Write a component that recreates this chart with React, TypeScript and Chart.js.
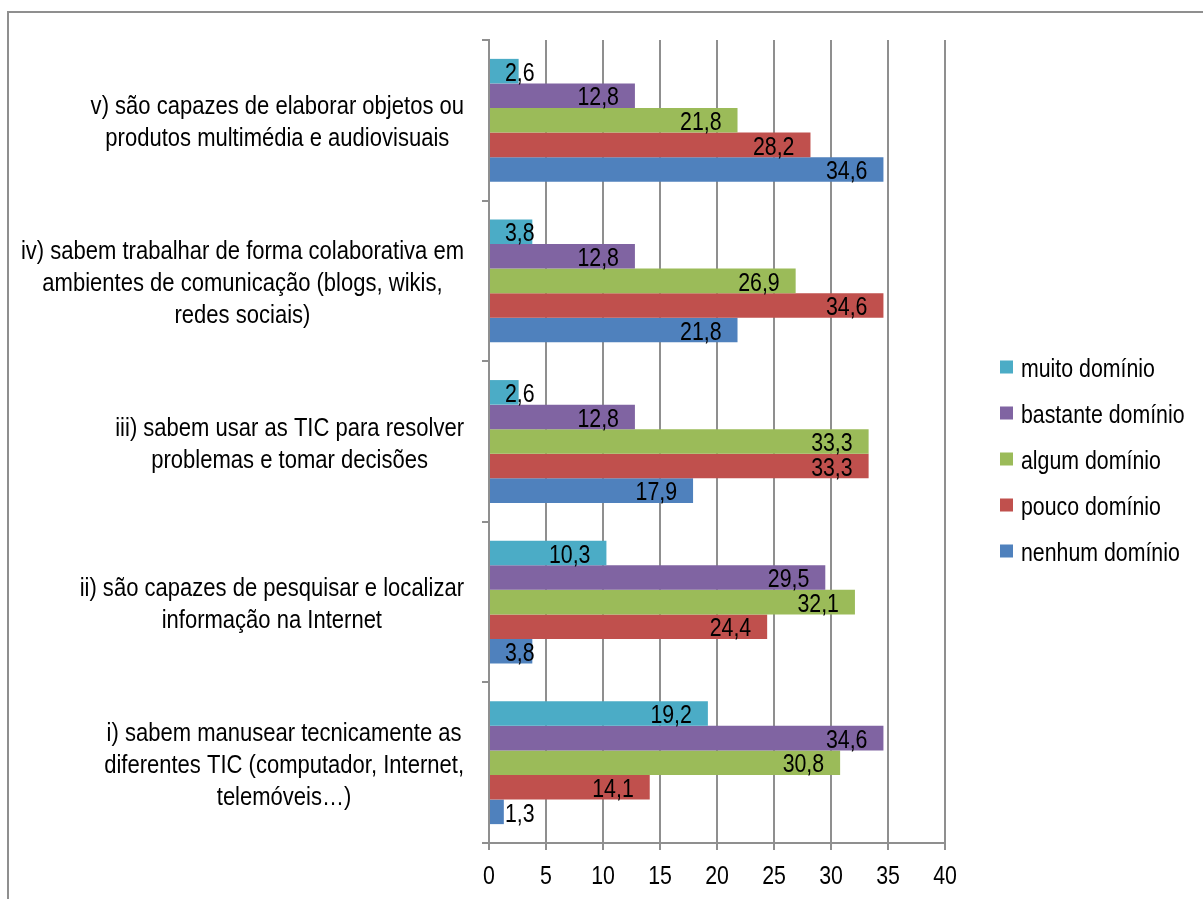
import React, { useEffect, useRef } from "react";
import { Chart, registerables } from "chart.js";

Chart.register(...registerables);

const FONT = "'Liberation Sans', Arial, sans-serif";
const FONT_SIZE = 26;
// Narrow face: regular sans squeezed horizontally
const NARROW = 0.82;
const NARROW_CAT = 0.847;

// Category labels (top to bottom), each split into its display lines
const categories: string[][] = [
  ["v) são capazes de elaborar objetos ou", "produtos multimédia e audiovisuais"],
  ["iv) sabem trabalhar de forma colaborativa em", "ambientes de comunicação (blogs, wikis,", "redes sociais)"],
  ["iii) sabem usar as TIC para resolver", "problemas e tomar decisões"],
  ["ii) são capazes de pesquisar e localizar", "informação na Internet"],
  ["i) sabem manusear tecnicamente as", "diferentes TIC (computador, Internet,", "telemóveis…)"],
];

const seriesNames = ["muito domínio", "bastante domínio", "algum domínio", "pouco domínio", "nenhum domínio"];
const seriesColors = ["#4BACC6", "#8064A2", "#9BBB59", "#C0504D", "#4F81BD"];

const muitoDominio = [2.6, 3.8, 2.6, 10.3, 19.2];
const bastanteDominio = [12.8, 12.8, 12.8, 29.5, 34.6];
const algumDominio = [21.8, 26.9, 33.3, 32.1, 30.8];
const poucoDominio = [28.2, 34.6, 33.3, 24.4, 14.1];
const nenhumDominio = [34.6, 21.8, 17.9, 3.8, 1.3];

const seriesValues = [muitoDominio, bastanteDominio, algumDominio, poucoDominio, nenhumDominio];

const xMin = 0;
const xMax = 40;
const xStep = 5;
const xTickValues = [0, 5, 10, 15, 20, 25, 30, 35, 40];

const fmt = (v: number) => v.toFixed(1).replace(".", ",");

function narrowWidth(ctx: CanvasRenderingContext2D, text: string, s: number) {
  return ctx.measureText(text).width * s;
}

function drawNarrow(
  ctx: CanvasRenderingContext2D,
  text: string,
  x: number,
  y: number,
  align: "left" | "center" | "right",
  s: number
) {
  const w = narrowWidth(ctx, text, s);
  const left = align === "left" ? x : align === "center" ? x - w / 2 : x - w;
  ctx.save();
  ctx.translate(left, y);
  ctx.scale(s, 1);
  ctx.textAlign = "left";
  ctx.fillText(text, 0, 0);
  ctx.restore();
}

// Value labels at the inner end of each bar
const valueLabels = {
  id: "valueLabels",
  afterDatasetsDraw(chart: any) {
    const { ctx, chartArea } = chart;
    ctx.save();
    ctx.font = `${FONT_SIZE}px ${FONT}`;
    ctx.fillStyle = "#000";
    ctx.textBaseline = "middle";
    chart.data.datasets.forEach((ds: any, di: number) => {
      const meta = chart.getDatasetMeta(di);
      meta.data.forEach((el: any, i: number) => {
        const text = fmt(ds.data[i]);
        const w = narrowWidth(ctx, text, NARROW);
        const xr = Math.max(el.x - 16, chartArea.left + 16 + w);
        drawNarrow(ctx, text, xr, el.y + 2.5, "right", NARROW);
      });
    });
    ctx.restore();
  },
};

// Axis numbers, category labels and legend
const textLayer = {
  id: "textLayer",
  afterDraw(chart: any) {
    const { ctx, chartArea } = chart;
    const xScale = chart.scales.x;
    const yScale = chart.scales.y;
    ctx.save();
    ctx.font = `${FONT_SIZE}px ${FONT}`;
    ctx.fillStyle = "#000";
    ctx.textBaseline = "middle";

    // x tick labels
    xTickValues.forEach((v) => {
      drawNarrow(ctx, String(v), xScale.getPixelForValue(v), chartArea.bottom + 34, "center", NARROW);
    });

    // category labels: block right-aligned, lines centred within it
    const lineH = 32;
    const right = chartArea.left - 25;
    categories.forEach((lines, i) => {
      const blockW = Math.max(...lines.map((l) => narrowWidth(ctx, l, NARROW_CAT)));
      const cx = right - blockW / 2;
      const cy = yScale.getPixelForValue(i) + 3;
      const y0 = cy - ((lines.length - 1) * lineH) / 2;
      lines.forEach((l, k) => drawNarrow(ctx, l, cx, y0 + k * lineH, "center", NARROW_CAT));
    });

    // legend
    const gap = 46;
    const n = chart.data.datasets.length;
    const centerY = (chartArea.top + chartArea.bottom) / 2 + 18;
    const startY = centerY - ((n - 1) * gap) / 2;
    const boxX = chartArea.right + 55;
    chart.data.datasets.forEach((ds: any, i: number) => {
      const y = startY + i * gap;
      ctx.fillStyle = ds.backgroundColor;
      ctx.fillRect(boxX, y - 7, 13, 13);
      ctx.fillStyle = "#000";
      drawNarrow(ctx, ds.label, boxX + 21, y + 2, "left", NARROW);
    });
    ctx.restore();
  },
};

export default function App() {
  const ref = useRef<HTMLCanvasElement | null>(null);

  useEffect(() => {
    if (!ref.current) return;
    const chart = new Chart(ref.current, {
      type: "bar",
      data: {
        labels: categories.map((c) => c.join(" ")),
        datasets: seriesNames.map((name, i) => ({
          label: name,
          data: seriesValues[i],
          backgroundColor: seriesColors[i],
          borderWidth: 0,
          barPercentage: 1,
          categoryPercentage: 0.765,
        })),
      },
      options: {
        indexAxis: "y",
        responsive: false,
        animation: false,
        layout: { padding: { top: 40, right: 258, left: 481, bottom: 0 } },
        plugins: {
          legend: { display: false },
          tooltip: { enabled: false },
        },
        scales: {
          x: {
            min: xMin,
            max: xMax,
            ticks: { stepSize: xStep, display: false },
            grid: { color: "#8f8f8f", lineWidth: 2, tickLength: 7, drawTicks: true },
            border: { display: true, color: "#8f8f8f", width: 2 },
            afterFit: (s: any) => {
              s.height = 56;
            },
          },
          y: {
            ticks: { display: false },
            grid: { color: "#8f8f8f", lineWidth: 2, drawOnChartArea: false, drawTicks: true, tickLength: 7, offset: true },
            border: { display: true, color: "#8f8f8f", width: 2 },
            afterFit: (s: any) => {
              s.width = 8;
            },
          },
        },
      },
      plugins: [valueLabels, textLayer],
    } as any);
    return () => chart.destroy();
  }, []);

  return (
    <div
      style={{
        position: "fixed",
        left: 0,
        top: 0,
        width: 1203,
        height: 899,
        overflow: "hidden",
        background: "#fff",
      }}
    >
      <div
        style={{
          position: "absolute",
          left: 7,
          top: 11,
          width: 1400,
          height: 1100,
          borderTop: "2px solid #8f8f8f",
          borderLeft: "2px solid #8f8f8f",
          boxSizing: "border-box",
        }}
      />
      <canvas ref={ref} width={1203} height={899} style={{ position: "absolute", left: 0, top: 0 }} />
    </div>
  );
}
